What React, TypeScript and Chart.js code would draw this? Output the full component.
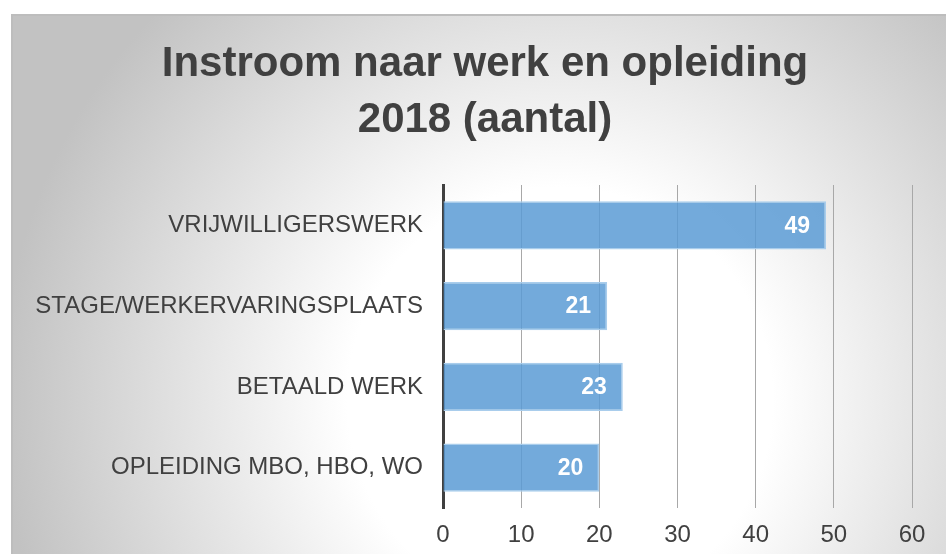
import React, { useEffect, useRef } from "react";
import { Chart, registerables } from "chart.js";

Chart.register(...registerables);

const categories = [
  "VRIJWILLIGERSWERK",
  "STAGE/WERKERVARINGSPLAATS",
  "BETAALD WERK",
  "OPLEIDING MBO, HBO, WO",
];
const values = [49, 21, 23, 20];
const titleLines = ["Instroom naar werk en opleiding", "2018 (aantal)"];
const axisMin = 0;
const axisMax = 60;
const axisStep = 10;

const W = 946;
const H = 554;

const backgroundPlugin = {
  id: "bgFrame",
  beforeDraw(chart: any) {
    const ctx = chart.ctx;
    ctx.save();
    ctx.fillStyle = "#ffffff";
    ctx.fillRect(0, 0, W, H);
    const g = ctx.createRadialGradient(560, 400, 0, 560, 400, 560);
    g.addColorStop(0, "#ffffff");
    g.addColorStop(0.38, "#ffffff");
    g.addColorStop(1, "#c2c2c2");
    ctx.fillStyle = g;
    ctx.fillRect(11, 14, W - 11, H - 14);
    ctx.strokeStyle = "#bdbdbd";
    ctx.lineWidth = 2;
    ctx.beginPath();
    ctx.moveTo(12, H);
    ctx.lineTo(12, 15);
    ctx.lineTo(W, 15);
    ctx.stroke();
    ctx.restore();
  },
};

const titleShiftPlugin = {
  id: "titleShift",
  afterLayout(chart: any) {
    const tb = chart.titleBlock;
    if (tb) {
      tb.left = 24;
      tb.right = 946;
    }
  },
};

const valueLabelPlugin = {
  id: "valueLabels",
  afterDatasetsDraw(chart: any) {
    const ctx = chart.ctx;
    const meta = chart.getDatasetMeta(0);
    ctx.save();
    ctx.fillStyle = "#ffffff";
    ctx.font = "bold 23px 'Liberation Sans', Arial, sans-serif";
    ctx.textAlign = "right";
    ctx.textBaseline = "middle";
    meta.data.forEach((bar: any, i: number) => {
      ctx.fillText(String(values[i]), bar.x - 16, bar.y + 1);
    });
    ctx.restore();
  },
};

export default function App() {
  const ref = useRef<HTMLCanvasElement | null>(null);
  useEffect(() => {
    if (!ref.current) return;
    const chart = new Chart(ref.current, {
      type: "bar",
      data: {
        labels: categories,
        datasets: [
          {
            data: values,
            backgroundColor: "rgba(91,155,213,0.85)",
            borderColor: "#a9cdec",
            borderWidth: 1.5,
            barPercentage: 0.6,
            categoryPercentage: 1,
          },
        ],
      },
      options: {
        indexAxis: "y",
        responsive: false,
        animation: false,
        layout: { padding: { left: 0, right: 34, top: 0, bottom: 0 } },
        plugins: {
          legend: { display: false },
          tooltip: { enabled: false },
          title: {
            display: true,
            text: titleLines,
            color: "#404040",
            font: {
              family: "'Liberation Sans', Arial, sans-serif",
              size: 42,
              weight: "bold",
              lineHeight: 56 / 42,
            },
            padding: { top: 36, bottom: 37 },
          },
        },
        scales: {
          x: {
            min: axisMin,
            max: axisMax,
            ticks: {
              stepSize: axisStep,
              color: "#404040",
              padding: 13,
              font: { family: "'Liberation Sans', Arial, sans-serif", size: 24 },
            },
            grid: { color: "#a8a8a8", lineWidth: 1, drawTicks: false },
            border: { display: false },
            afterFit(scale: any) {
              scale.height = 46;
            },
          },
          y: {
            ticks: {
              color: "#404040",
              padding: 20,
              font: { family: "'Liberation Sans', Arial, sans-serif", size: 24 },
            },
            grid: { display: false, drawTicks: false },
            border: { display: true, color: "#404040", width: 3 },
            afterFit(scale: any) {
              scale.width = 443;
            },
          },
        },
      },
      plugins: [backgroundPlugin, titleShiftPlugin, valueLabelPlugin],
    });
    return () => chart.destroy();
  }, []);
  return (
    <canvas
      ref={ref}
      width={W}
      height={H}
      style={{ position: "fixed", left: 0, top: 0, width: W, height: H }}
    />
  );
}
